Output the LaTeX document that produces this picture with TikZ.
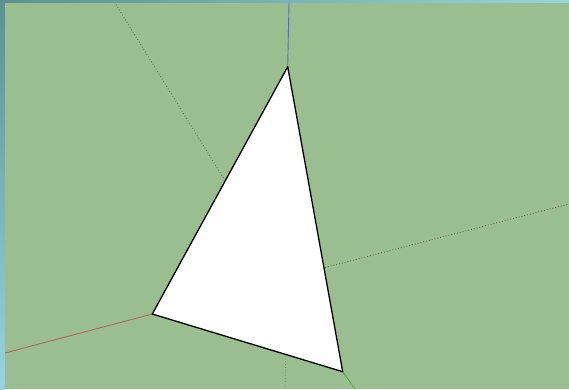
\documentclass[tikz,border=0pt]{standalone}
\usepackage{tikz}
\definecolor{groundgreen}{RGB}{155,190,145}
\definecolor{framedark}{RGB}{90,145,145}
\definecolor{framelight}{RGB}{152,212,224}
\definecolor{axisred}{RGB}{170,105,85}
\definecolor{axisgreen}{RGB}{75,175,75}
\definecolor{axisblue}{RGB}{90,110,165}

\begin{document}
\begin{tikzpicture}[x=1pt,y=-1pt]
  \useasboundingbox (0,0) rectangle (569,389);
  % window frame and ground
  \shade[left color=framedark,right color=framelight] (0,0) rectangle (569,3);
  \shade[top color=framedark,bottom color=framelight] (0,0) rectangle (5,389);
  \fill[groundgreen] (5,3) rectangle (569,389);
  % corners of the face
  \coordinate (top) at (287.7,66.7);
  \coordinate (left) at (152.3,314);
  \coordinate (right) at (342.7,371.7);
  % axis ends
  \coordinate (blueend) at (289,3);
  \coordinate (bluehid) at (285.8,353);
  \coordinate (bluelow) at (285,389);
  \coordinate (redend) at (5,353);
  \coordinate (redhid) at (325,267.5);
  \coordinate (redright) at (569,204);
  \coordinate (greenend) at (115,3);
  \coordinate (greenhid) at (225,180.5);
  \coordinate (greenlow) at (355,389);
  % axes
  \draw[axisblue,line width=.9pt] (top) -- (blueend);
  \draw[axisblue!70!groundgreen,dotted,line width=.8pt] (bluehid) -- (bluelow);
  \draw[axisred,line width=.9pt] (left) -- (redend);
  \draw[axisred!40!black!60!groundgreen,dotted,line width=.9pt] (redhid) -- (redright);
  \draw[axisgreen!60!black!70!groundgreen,dotted,line width=.9pt] (greenhid) -- (greenend);
  \draw[axisgreen,line width=.9pt] (right) -- (greenlow);
  % face
  \filldraw[fill=white,draw=black,line width=1.3pt,line join=round] (top) -- (left) -- (right) -- cycle;
\end{tikzpicture}
\end{document}
